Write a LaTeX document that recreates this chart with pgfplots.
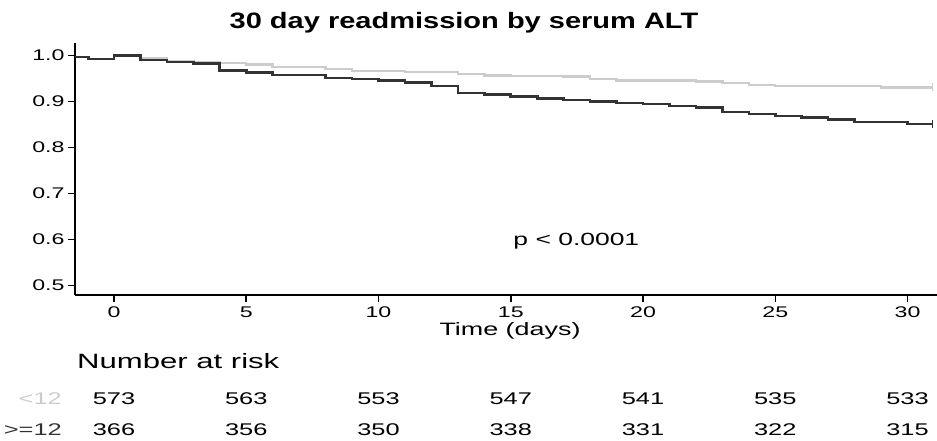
\documentclass[border=0pt]{standalone}
\usepackage{fontspec}
\setmainfont{Liberation Sans}[FakeStretch=1.5]
\newfontfamily\titlefont{Liberation Sans}[FakeStretch=1.3]
\usepackage{pgfplots}
\usepackage{pgfplotstable}
\pgfplotsset{compat=1.18}
\definecolor{darkc}{HTML}{333333}
\definecolor{lightc}{HTML}{CCCCCC}

\pgfplotstableread{
t s
-1.47 0.9965
-0.97 0.992
0 1.000
1 0.990
2 0.985
3 0.982
4 0.967
5 0.962
6 0.957
8 0.951
9 0.948
10 0.945
11 0.941
12 0.933
13 0.918
14 0.915
15 0.911
16 0.906
17 0.903
18 0.899
19 0.896
20 0.894
21 0.890
22 0.887
23 0.877
24 0.872
25 0.868
26 0.865
27 0.860
28 0.855
30 0.851
30.95 0.851
}\highalt

\pgfplotstableread{
t s
-1.47 0.9965
-0.97 0.992
0 1.000
1 0.9935
2 0.987
3 0.985
4 0.983
5 0.980
6 0.974
8 0.970
9 0.966
11 0.963
13 0.959
14 0.956
15 0.955
17 0.9535
18 0.949
19 0.945
22 0.943
23 0.940
24 0.936
25 0.933
29 0.930
30.95 0.930
}\lowalt

\pgfplotstableread{
t low high
0 573 366
5 563 356
10 553 350
15 547 338
20 541 331
25 535 322
30 533 315
}\risk

\begin{document}
\begin{tikzpicture}[x=1bp,y=1bp]
\useasboundingbox (0,0) rectangle (937,441);
\begin{axis}[
  at={(75bp,146bp)}, anchor=south west,
  scale only axis, width=862bp, height=252bp,
  xmin=-1.474, xmax=31.115, ymin=0.4789, ymax=1.0267,
  axis x line*=bottom, axis y line*=left,
  axis line style={line width=1.5bp, -},
  every tick/.style={line width=1.5bp, black},
  tick align=outside, major tick length=7bp,
  xtick={0,5,...,30}, ytick={0.5,0.6,0.7,0.8,0.9,1.0},
  /pgf/number format/assume math mode=true,
  yticklabel style={/pgf/number format/.cd, fixed, fixed zerofill, precision=1},
  xticklabel style={yshift=-1bp},
  ticklabel style={font=\fontsize{15.5}{15.5}\selectfont},
  clip=false,
]
\addplot[const plot, lightc, line width=2.4bp] table[x=t,y=s] {\lowalt};
\addplot[const plot, darkc, line width=2.6bp] table[x=t,y=s] {\highalt};
\addplot[lightc, only marks, mark=|, mark size=4bp, mark options={line width=1.5bp}] coordinates {(30.95,0.930)};
\addplot[darkc, only marks, mark=|, mark size=4bp, mark options={line width=1.5bp}] coordinates {(30.95,0.851)};
\node[font=\fontsize{17.7}{17.7}\selectfont] at (axis cs:17.48,0.596) {p < 0.0001};
\end{axis}
\begin{axis}[
  at={(75bp,0bp)}, anchor=south west,
  scale only axis, width=862bp, height=60bp,
  xmin=-1.474, xmax=31.115, ymin=0, ymax=60,
  hide axis, clip=false,
  nodes near coords, point meta=explicit symbolic,
  nodes near coords align=center,
  every node near coord/.append style={font=\fontsize{17}{17}\selectfont, text=black, inner sep=0pt},
]
\addplot[only marks, mark=*, mark size=0pt, mark options={draw=none, fill=none}] table[x=t, y expr=42, meta=low] {\risk};
\addplot[only marks, mark=*, mark size=0pt, mark options={draw=none, fill=none}] table[x=t, y expr=11, meta=high] {\risk};
\end{axis}
\node[font=\titlefont\bfseries\fontsize{22.4}{22.4}\selectfont] at (464,418) {30 day readmission by serum ALT};
\node[font=\fontsize{18}{18}\selectfont] at (510,110) {Time (days)};
\node[font=\fontsize{20.8}{20.8}\selectfont, anchor=west, inner sep=0pt] at (77,80) {Number at risk};
\node[font=\fontsize{17}{17}\selectfont, anchor=east, inner sep=0pt, text=lightc] at (62,42) {<12};
\node[font=\fontsize{17}{17}\selectfont, anchor=east, inner sep=0pt, text=darkc] at (62,11) {>=12};
\end{tikzpicture}
\end{document}
